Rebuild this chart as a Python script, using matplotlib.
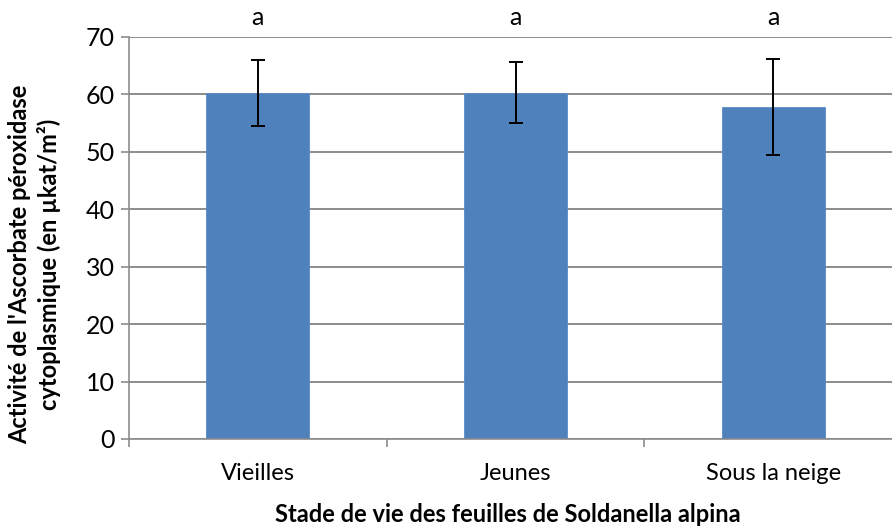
import matplotlib
matplotlib.use("Agg")
import matplotlib.pyplot as plt

plt.rcParams['font.family'] = ['Lato', 'DejaVu Sans']

categories = ["Vieilles", "Jeunes", "Sous la neige"]
values = [60.25, 60.25, 57.8]
err_low = [54.5, 54.95, 49.4]
err_high = [65.95, 65.6, 66.2]
letters = ["a", "a", "a"]
yticks = [0, 10, 20, 30, 40, 50, 60, 70]

fig = plt.figure(figsize=(8.92, 5.28), dpi=100)
ax = fig.add_axes([129 / 892, 89 / 528, 773 / 892, 402 / 528])

x = list(range(len(categories)))
lower = [v - lo for v, lo in zip(values, err_low)]
upper = [hi - v for v, hi in zip(values, err_high)]

ax.set_axisbelow(True)
ax.yaxis.grid(True, color="#8c8c8c", linewidth=1.4)
ax.bar(x, values, width=0.4, color="#4F81BD", edgecolor="#5b8bc6", linewidth=0.6, zorder=2)
ax.errorbar(x, values, yerr=[lower, upper], fmt="none", ecolor="black",
            elinewidth=1.4, capsize=5, capthick=1.4, zorder=3)

for xi, t in zip(x, letters):
    ax.text(xi, 73.4, t, ha="center", va="center", fontsize=18, clip_on=False)

ax.set_xlim(-0.5, 2.5)
ax.set_ylim(0, 70)
ax.set_yticks(yticks)
ax.set_xticks(x)
ax.set_xticklabels(categories, fontsize=17)
ax.set_xticks([-0.5, 0.5, 1.5, 2.5], minor=True)
ax.tick_params(axis="x", which="major", length=0, pad=17)
ax.tick_params(axis="x", which="minor", length=6, color="#8c8c8c", width=1.2)
ax.tick_params(axis="y", length=6, color="#8c8c8c", width=1.2, labelsize=18, pad=4)

for s in ["top", "right"]:
    ax.spines[s].set_visible(False)
for s in ["left", "bottom"]:
    ax.spines[s].set_color("#8c8c8c")
    ax.spines[s].set_linewidth(1.2)

fig.text(508 / 892, 1 - 515 / 528, "Stade de vie des feuilles de Soldanella alpina",
         ha="center", va="center", fontsize=17, fontweight="bold")
fig.text(0.039, 0.5, "Activité de l'Ascorbate péroxidase\ncytoplasmique (en µkat/m²)",
         rotation=90, ha="center", va="center", fontsize=17, fontweight="bold",
         linespacing=1.3)

fig.savefig("out.png", dpi=100)
